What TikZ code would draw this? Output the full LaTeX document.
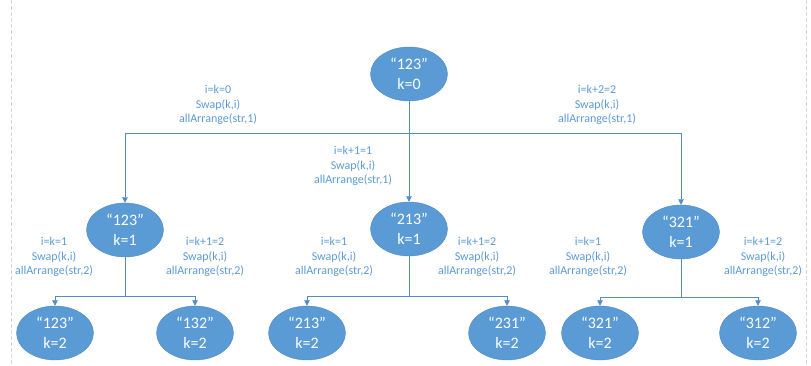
\documentclass[tikz,border=0pt]{standalone}
\usepackage{fontspec}
\setmainfont{Carlito}
\usetikzlibrary{arrows.meta,shapes.geometric,calc}
\definecolor{nodefill}{RGB}{91,155,213}
\definecolor{edgeblue}{RGB}{84,140,198}
\definecolor{frameg}{RGB}{214,214,214}
\tikzset{
  perm/.style={ellipse, fill=nodefill, draw=nodefill!88!black, line width=0.4pt,
    minimum width=77pt, minimum height=54pt, inner sep=0pt, align=center,
    text=white, font=\fontsize{16}{20}\selectfont},
  lbl/.style={align=center, text=nodefill, inner sep=0pt,
    font=\fontsize{12}{14.5}\selectfont},
  flow/.style={-{Triangle[length=5.5pt,width=5.5pt]}, line width=0.8pt, draw=edgeblue},
}

\begin{document}
\begin{tikzpicture}[x=1pt,y=-1pt]
  \useasboundingbox (0,0) rectangle (811,366);
  \draw[frameg, line width=0.6pt, dash pattern=on 4pt off 2pt] (11,0) -- (11,366);
  \draw[frameg, line width=0.6pt, dash pattern=on 4pt off 2pt] (806,0) -- (806,366);

  % permutation states
  \node[perm] (r) at (409,74) {“123”\\k=0};
  \node[perm] (a) at (125,230) {“123”\\k=1};
  \node[perm] (b) at (409,229) {“213”\\k=1};
  \node[perm] (c) at (681,232) {“321”\\k=1};
  \node[perm] (a1) at (55,333) {“123”\\k=2};
  \node[perm] (a2) at (195,333) {“132”\\k=2};
  \node[perm] (b1) at (307,333) {“213”\\k=2};
  \node[perm] (b2) at (507,333) {“231”\\k=2};
  \node[perm] (c1) at (600,333) {“321”\\k=2};
  \node[perm] (c2) at (758,333) {“312”\\k=2};

  % branch points
  \coordinate (j0) at (409,133);
  \coordinate (ja) at (125,296);
  \coordinate (jb) at (409,296);
  \coordinate (jc) at (681,297);

  \draw[flow] (r) -- (j0) -| (a);
  \draw[flow] (r) -- (b);
  \draw[flow] (r) -- (j0) -| (c);
  \foreach \p/\j in {a/ja,b/jb,c/jc}{
    \draw[flow] (\p) -- (\j) -| (\p1);
    \draw[flow] (\p) -- (\j) -| (\p2);
  }

  % swap labels
  \node[lbl] (l0) at (218,105) {i=k=0\\Swap(k,i)\\allArrange(str,1)};
  \node[lbl] (l1) at (353,166) {i=k+1=1\\Swap(k,i)\\allArrange(str,1)};
  \node[lbl] (l2) at (597,105) {i=k+2=2\\Swap(k,i)\\allArrange(str,1)};
  \node[lbl] (la1) at (54,257) {i=k=1\\Swap(k,i)\\allArrange(str,2)};
  \node[lbl] (la2) at (205,257) {i=k+1=2\\Swap(k,i)\\allArrange(str,2)};
  \node[lbl] (lb1) at (334,257) {i=k=1\\Swap(k,i)\\allArrange(str,2)};
  \node[lbl] (lb2) at (477,257) {i=k+1=2\\Swap(k,i)\\allArrange(str,2)};
  \node[lbl] (lc1) at (588,257) {i=k=1\\Swap(k,i)\\allArrange(str,2)};
  \node[lbl] (lc2) at (763,257) {i=k+1=2\\Swap(k,i)\\allArrange(str,2)};
\end{tikzpicture}
\end{document}
